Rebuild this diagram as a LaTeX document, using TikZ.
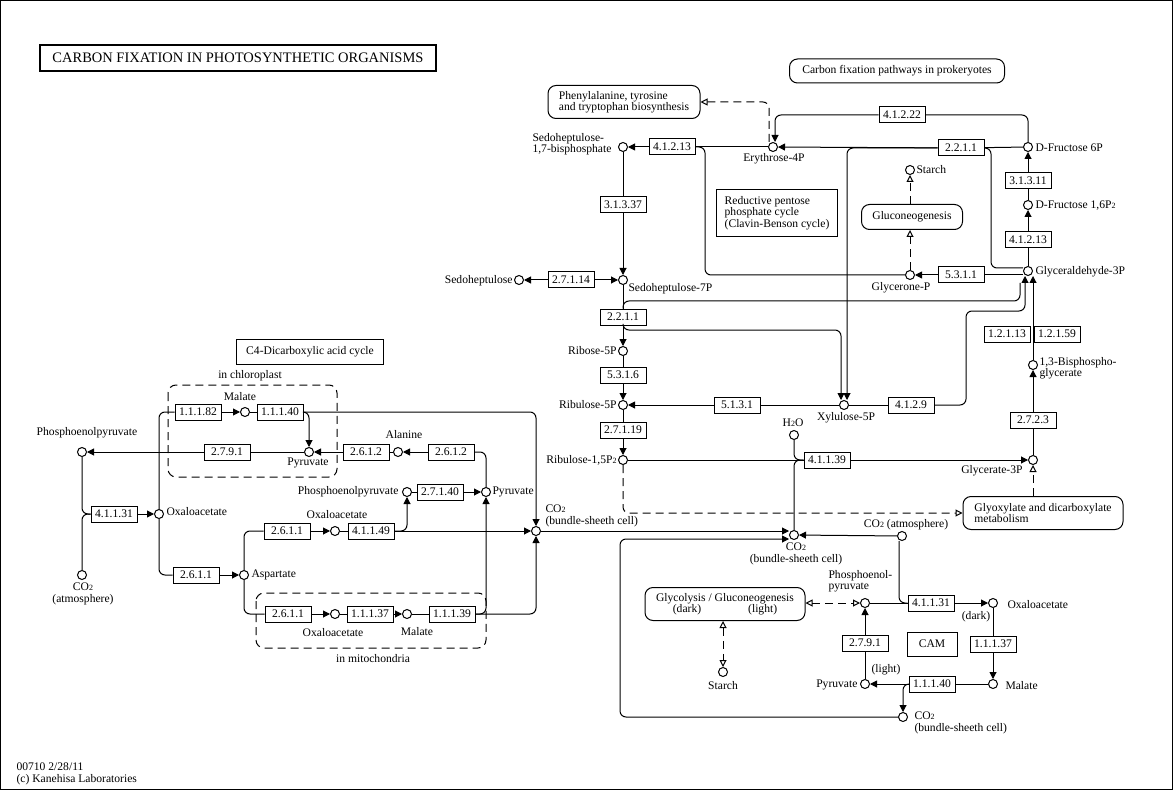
\documentclass[tikz,border=0pt]{standalone}
\usepackage{fontspec}
\setmainfont{Liberation Serif}
\usetikzlibrary{arrows.meta}
\newcommand\kfont{\fontsize{11.6}{11.5}\selectfont}
\newcommand\ksub[1]{{\fontsize{8}{8}\selectfont #1}}

\begin{document}
\begin{tikzpicture}[x=1pt, y=-1pt, line width=1pt, font=\kfont,
  cpd/.style={circle, draw, fill=white, minimum size=9pt, inner sep=0pt},
  enz/.style={draw, fill=white, minimum width=46pt, minimum height=16pt, inner sep=0pt},
  mapbox/.style={draw, rounded corners=8pt, inner sep=3pt},
  infobox/.style={draw, inner sep=3pt},
  lbl/.style={inner sep=0pt, align=left},
  rxn/.style={-{Triangle[length=7pt,width=7pt]}},
  toopen/.style={-{Triangle[open,length=7pt,width=7pt]}},
  bothopen/.style={{Triangle[open,length=7pt,width=7pt]}-{Triangle[open,length=7pt,width=7pt]}},
  dmap/.style={dash pattern=on 8pt off 5pt},
  flow/.style={rounded corners=6pt}]

\useasboundingbox (0,0) rectangle (1174,791);
\draw (0.5,0.5) rectangle (1172.5,789.5);

\node[draw, line width=2pt, minimum width=396pt, minimum height=26pt, font=\fontsize{14.5}{16}\selectfont] (title) at (238,58) {CARBON FIXATION IN PHOTOSYNTHETIC ORGANISMS};

% pathway maps and boxes
\node[mapbox, minimum width=215pt, minimum height=24pt] (prok) at (897,71) {Carbon fixation pathways in prokeryotes};
\node[mapbox, minimum width=152pt, minimum height=33pt, align=left] (phe) at (624,102) {Phenylalanine, tyrosine\\and tryptophan biosynthesis};
\node[mapbox, minimum width=101pt, minimum height=25pt] (gluco) at (912,217) {Gluconeogenesis};
\node[mapbox, minimum width=160pt, minimum height=33pt, align=left] (glyox) at (1043,513) {Glyoxylate and dicarboxylate\\metabolism};
\node[mapbox, minimum width=160pt, minimum height=33pt, align=center] (glyc) at (725,604) {Glycolysis / Gluconeogenesis\\(dark)\hspace{47pt}(light)};
\node[infobox, minimum width=121pt, minimum height=47pt, align=left, font=\fontsize{11.6}{10.5}\selectfont] (rpp) at (777,213) {Reductive pentose\\phosphate cycle\\(Clavin-Benson cycle)};
\node[infobox, minimum width=147pt, minimum height=25pt] (c4) at (310,352) {C4-Dicarboxylic acid cycle};
\node[infobox, minimum width=50pt, minimum height=24pt] (cam) at (932,644) {CAM};

% compartments
\draw[dmap, rounded corners=8pt] (168,385) rectangle (337,477);
\draw[dmap, rounded corners=8pt] (256,593) rectangle (486,648);
\node[lbl] (t-chl) at (250,376) {in chloroplast};
\node[lbl] (t-mito) at (373,659) {in mitochondria};

% Calvin cycle compounds
\node[cpd] (s17bp) at (623,147) {};
\node[cpd] (e4p) at (773,147) {};
\node[cpd] (f6p) at (1028,147) {};
\node[cpd] (starchA) at (910,170) {};
\node[cpd] (fbp) at (1028,205) {};
\node[cpd] (g3p) at (1028,271) {};
\node[cpd] (dhap) at (910,275) {};
\node[cpd] (sedo) at (519,280) {};
\node[cpd] (s7p) at (623,280) {};
\node[cpd] (r5p) at (623,351) {};
\node[cpd] (bpg) at (1033,365) {};
\node[cpd] (ru5p) at (623,405) {};
\node[cpd] (xu5p) at (844,405) {};
\node[cpd] (h2o) at (794,435) {};
\node[cpd] (rubp) at (623,460) {};
\node[cpd] (pga) at (1033,460) {};
\node[cpd] (co2bs) at (794,535) {};
\node[cpd] (co2atm) at (902,536) {};

% CAM compounds
\node[cpd] (pepR) at (865,603) {};
\node[cpd] (oaaR) at (993,603) {};
\node[cpd] (starchB) at (723,672) {};
\node[cpd] (pyrR) at (865,684) {};
\node[cpd] (malR) at (993,684) {};
\node[cpd] (co2R) at (903,717) {};

% C4 compounds
\node[cpd] (pepL) at (82,452) {};
\node[cpd] (co2L) at (82,575) {};
\node[cpd] (oaaL) at (159,514) {};
\node[cpd] (malC) at (245,412) {};
\node[cpd] (pyrC) at (309,452) {};
\node[cpd] (ala) at (398,452) {};
\node[cpd] (pepM) at (407,492) {};
\node[cpd] (pyrM) at (486,492) {};
\node[cpd] (oaaM) at (335,531) {};
\node[cpd] (co2C) at (536,531) {};
\node[cpd] (asp) at (244,575) {};
\node[cpd] (oaaMi) at (335,614) {};
\node[cpd] (malMi) at (407,614) {};

% enzymes
\node[enz] (e41213a) at (672,147) {4.1.2.13};
\node[enz] (e41222) at (902,115) {4.1.2.22};
\node[enz] (e2211a) at (961,148) {2.2.1.1};
\node[enz] (e31311) at (1028,181) {3.1.3.11};
\node[enz] (e41213b) at (1028,240) {4.1.2.13};
\node[enz] (e5311) at (961,275) {5.3.1.1};
\node[enz] (e31337) at (623,205) {3.1.3.37};
\node[enz] (e2714) at (571,280) {2.7.1.14};
\node[enz] (e2211b) at (623,317) {2.2.1.1};
\node[enz] (e5316) at (623,375) {5.3.1.6};
\node[enz] (e5131) at (737,405) {5.1.3.1};
\node[enz] (e4129) at (911,405) {4.1.2.9};
\node[enz] (e2719) at (623,430) {2.7.1.19};
\node[enz] (e41139) at (827,460) {4.1.1.39};
\node[enz] (e12113) at (1007,334) {1.2.1.13};
\node[enz] (e12159) at (1057,334) {1.2.1.59};
\node[enz] (e2723) at (1033,420) {2.7.2.3};
\node[enz] (e41131R) at (931,603) {4.1.1.31};
\node[enz] (e11137R) at (993,644) {1.1.1.37};
\node[enz] (e11140R) at (932,684) {1.1.1.40};
\node[enz] (e2791R) at (865,643) {2.7.9.1};
\node[enz] (e41131L) at (114,514) {4.1.1.31};
\node[enz] (e11182) at (198,412) {1.1.1.82};
\node[enz] (e11140C) at (280,412) {1.1.1.40};
\node[enz] (e2791L) at (227,452) {2.7.9.1};
\node[enz] (e2612a) at (366,452) {2.6.1.2};
\node[enz] (e2612b) at (451,452) {2.6.1.2};
\node[enz] (e27140) at (440,492) {2.7.1.40};
\node[enz] (e2611a) at (196,575) {2.6.1.1};
\node[enz] (e2611b) at (287,531) {2.6.1.1};
\node[enz] (e41149) at (371,531) {4.1.1.49};
\node[enz] (e2611c) at (288,614) {2.6.1.1};
\node[enz] (e11137M) at (370,614) {1.1.1.37};
\node[enz] (e11139) at (452,614) {1.1.1.39};

% labels
\node[lbl, anchor=west] (t-s17bp) at (532,144) {Sedoheptulose-\\1,7-bisphosphate};
\node[lbl] (t-e4p) at (774,159) {Erythrose-4P};
\node[lbl, anchor=west] (t-f6p) at (1035,148) {D-Fructose 6P};
\node[lbl, anchor=west] (t-starchA) at (916,170) {Starch};
\node[lbl, anchor=west] (t-fbp) at (1035,206) {D-Fructose 1,6P\ksub{2}};
\node[lbl, anchor=west] (t-g3p) at (1035,272) {Glyceraldehyde-3P};
\node[lbl] (t-dhap) at (901,288) {Glycerone-P};
\node[lbl, anchor=east] (t-sedo) at (513,281) {Sedoheptulose};
\node[lbl, anchor=west] (t-s7p) at (628,289) {Sedoheptulose-7P};
\node[lbl, anchor=east] (t-r5p) at (617,351) {Ribose-5P};
\node[lbl, anchor=east] (t-ru5p) at (617,405) {Ribulose-5P};
\node[lbl] (t-xu5p) at (846,418) {Xylulose-5P};
\node[lbl] (t-h2o) at (793,423) {H\ksub{2}O};
\node[lbl, anchor=east] (t-rubp) at (617,460) {Ribulose-1,5P\ksub{2}};
\node[lbl, anchor=west] (t-bpg) at (1039,368) {1,3-Bisphospho-\\glycerate};
\node[lbl, anchor=east] (t-pga) at (1023,471) {Glycerate-3P};
\node[lbl, align=center] (t-co2bs) at (796,554) {CO\ksub{2}\\(bundle-sheeth cell)};
\node[lbl] (t-co2atm) at (906,525) {CO\ksub{2} (atmosphere)};
\node[lbl, anchor=west] (t-pepR) at (828,581) {Phosphoenol-\\pyruvate};
\node[lbl, anchor=west] (t-oaaR) at (1007,605) {Oxaloacetate};
\node[lbl] (t-dark) at (976,617) {(dark)};
\node[lbl, anchor=west] (t-malR) at (1005,686) {Malate};
\node[lbl] (t-light) at (886,670) {(light)};
\node[lbl, anchor=east] (t-pyrR) at (858,685) {Pyruvate};
\node[lbl] (t-starchB) at (723,686) {Starch};
\node[lbl, anchor=west] (t-co2R) at (914,723) {CO\ksub{2}\\(bundle-sheeth cell)};
\node[lbl] (t-pepL) at (87,433) {Phosphoenolpyruvate};
\node[lbl, align=center] (t-co2L) at (83,594) {CO\ksub{2}\\(atmosphere)};
\node[lbl, anchor=west] (t-oaaL) at (166,512) {Oxaloacetate};
\node[lbl] (t-malC) at (240,397) {Malate};
\node[lbl] (t-pyrC) at (308,463) {Pyruvate};
\node[lbl] (t-ala) at (404,435) {Alanine};
\node[lbl, anchor=east] (t-pepM) at (399,492) {Phosphoenolpyruvate};
\node[lbl, anchor=west] (t-pyrM) at (492,492) {Pyruvate};
\node[lbl] (t-oaaM) at (337,515) {Oxaloacetate};
\node[lbl, anchor=west] (t-asp) at (251,575) {Aspartate};
\node[lbl] (t-oaaMi) at (333,633) {Oxaloacetate};
\node[lbl] (t-malMi) at (417,632) {Malate};
\node[lbl, anchor=west] (t-co2C) at (545,516) {CO\ksub{2}\\(bundle-sheeth cell)};
\node[lbl, anchor=west] (t-foot) at (16,774) {00710 2/28/11\\(c) Kanehisa Laboratories};

% Calvin cycle reactions
\draw[rxn] (e41213a) -- (s17bp);
\draw (e4p) -- (e41213a);
\draw[flow] (e41213a.east) -| (705,275) -- (dhap);
\draw[dmap, toopen, flow] ([xshift=-4pt]e4p.north) |- (phe.east);
\draw[rxn] (e2211a) -- (e4p);
\draw[rxn, flow] (e2211a.west) -| ([xshift=3pt]xu5p.north);
\draw (e2211a) -- (f6p);
\draw[flow] (e2211a.east) -| (991,268) -- ([yshift=3pt]g3p.west);
\draw[flow] (f6p) |- (e41222.east);
\draw[rxn, flow] (e41222.west) -| ([xshift=2pt]e4p.north);
\draw (fbp) -- (e31311);
\draw[rxn] (e31311) -- (f6p);
\draw (g3p) -- (e41213b);
\draw[rxn] (e41213b) -- (fbp);
\draw (e5311.east) -- ([yshift=-4pt]g3p.west);
\draw[rxn] (e5311) -- (dhap);
\draw[dmap, toopen] (dhap) -- (dhap |- gluco.south);
\draw[dmap, toopen] (gluco.north -| starchA) -- (starchA);
\draw (s17bp) -- (e31337);
\draw[rxn] (e31337) -- (s7p);
\draw[rxn] (e2714) -- (sedo);
\draw[rxn] (e2714) -- (s7p);
\draw (s7p) -- (e2211b);
\draw[rxn] (e2211b) -- (r5p);
\draw[flow] (e2211b.north) |- (1020,301) -- (1020,283);
\draw[rxn, flow] (e2211b.south) |- (841,330) -- ([xshift=-3pt]xu5p.north);
\draw (r5p) -- (e5316);
\draw[rxn] (e5316) -- (ru5p);
\draw (xu5p) -- (e5131);
\draw[rxn] (e5131) -- (ru5p);
\draw (xu5p) -- (e4129);
\draw[rxn, flow] (e4129.east) -| (966,311) -| ([xshift=-3pt]g3p.south);
\draw (ru5p) -- (e2719);
\draw[rxn] (e2719) -- (rubp);
\draw (rubp) -- (e41139);
\draw[rxn] (e41139) -- (pga);
\draw[flow] (h2o) |- (e41139.west);
\draw[flow] (co2bs) |- (e41139.west);
\draw[dmap, toopen, flow] (rubp) |- (glyox.west);
\draw[dmap, toopen] (glyox.north -| pga) -- (pga);
\draw (pga) -- (e2723);
\draw[rxn] (e2723) -- (bpg);
\draw[rxn] (bpg) -- (bpg |- g3p.south);
\draw[rxn] (co2atm) -- (co2bs);
\draw[rxn] (co2C) -- (co2C -| co2bs.west);
\draw[rxn, flow] (co2R) -| (620,539) -- ([yshift=-4pt]co2bs.west);

% CAM reactions
\draw[flow] ([xshift=-3pt]co2atm.south) |- (e41131R.west);
\draw (pepR) -- (e41131R);
\draw[rxn] (e41131R) -- (oaaR);
\draw (oaaR) -- (e11137R);
\draw[rxn] (e11137R) -- (malR);
\draw (malR) -- (e11140R);
\draw[rxn] (e11140R) -- (pyrR);
\draw[rxn, flow] (e11140R.west) -| (co2R);
\draw (pyrR) -- (e2791R);
\draw[rxn] (e2791R) -- (pepR);
\draw[dmap, bothopen] (glyc.east |- pepR) -- (pepR);
\draw[dmap, bothopen] (glyc.south -| starchB) -- (starchB);

% C4 reactions
\draw[flow] (pepL) |- (e41131L.west);
\draw[flow] (co2L) |- (e41131L.west);
\draw[rxn] (e41131L) -- (oaaL);
\draw[flow] (oaaL) |- (e11182.west);
\draw[rxn] (e11182) -- (malC);
\draw (malC) -- (e11140C);
\draw[rxn, flow] (e11140C.east) -| (pyrC);
\draw[rxn, flow] (e11140C.east) -| (co2C);
\draw (pyrC) -- (e2791L);
\draw[rxn] (e2791L) -- (pepL);
\draw (ala) -- (e2612a);
\draw[rxn] (e2612a) -- (pyrC);
\draw[rxn] (e2612b) -- (ala);
\draw[flow] (e2612b.east) -| (pyrM);
\draw (pepM) -- (e27140);
\draw[rxn] (e27140) -- (pyrM);
\draw[flow] (oaaL) |- (e2611a.west);
\draw[rxn] (e2611a) -- (asp);
\draw[flow] (asp) |- (e2611b.west);
\draw[rxn] (e2611b) -- (oaaM);
\draw (oaaM) -- (e41149);
\draw[rxn] (e41149) -- (co2C);
\draw[rxn, flow] (e41149.east) -| (pepM);
\draw[flow] (asp) |- (e2611c.west);
\draw[rxn] (e2611c) -- (oaaMi);
\draw (oaaMi) -- (e11137M);
\draw[rxn] (e11137M) -- (malMi);
\draw (malMi) -- (e11139);
\draw[rxn, flow] (e11139.east) -| (pyrM);
\draw[rxn, flow] (e11139.east) -| (co2C);
\end{tikzpicture}
\end{document}
